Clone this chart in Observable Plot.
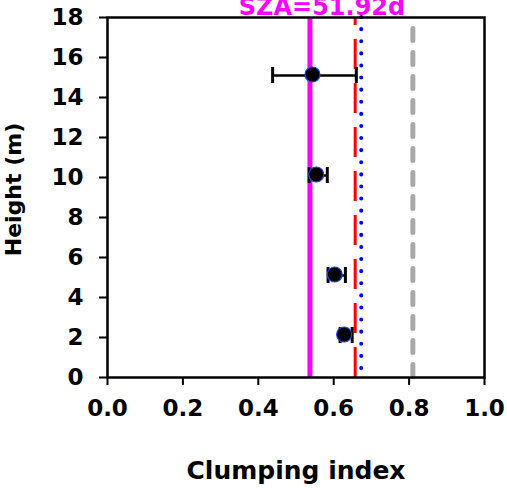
<!DOCTYPE html>
<html>
<head>
<meta charset="utf-8">
<script src="https://cdn.jsdelivr.net/npm/d3@7"></script>
<script src="https://cdn.jsdelivr.net/npm/@observablehq/plot@0.6"></script>
<style>
  html, body { margin: 0; padding: 0; background: white; }
  #chart { width: 507px; height: 488px; overflow: hidden; }
</style>
</head>
<body>
<div id="chart"></div>
<script>
// ---- data ----
const titleText = "SZA=51.92d";
const heights = [15.1, 10.1, 5.1, 2.1];
const clumping = [0.549, 0.559, 0.608, 0.633];
const errors = [0.111, 0.024, 0.023, 0.016];
const refMagenta = [0.537];
const refRed = [0.657];
const refBlue = [0.673];
const refGray = [0.81];
const xTicks = [0, 0.2, 0.4, 0.6, 0.8, 1.0];
const yTicks = [0, 2, 4, 6, 8, 10, 12, 14, 16, 18];
const xLabel = "Clumping index";
const yLabel = "Height (m)";

const rows = heights.map((h, i) => ({h, c: clumping[i], e: errors[i]}));
const capHalf = 0.4;

const chart = Plot.plot({
  width: 507,
  height: 488,
  marginLeft: 107,
  marginRight: 23,
  marginTop: 17,
  marginBottom: 111,
  style: {fontFamily: "DejaVu Sans", fontWeight: "bold", fontSize: "23px", color: "black", background: "white", overflow: "visible"},
  x: {domain: [0, 1]},
  y: {domain: [0, 18]},
  marks: [
    Plot.ruleX(refGray, {stroke: "#a9a9a9", strokeWidth: 5, strokeDasharray: "12,12", strokeDashoffset: 12.5, strokeLinecap: "round"}),
    Plot.ruleX(refMagenta, {stroke: "#ff00ff", strokeWidth: 5}),
    Plot.ruleX(refRed, {stroke: "#ff0000", strokeWidth: 3, strokeDasharray: "30,14", strokeDashoffset: 22}),
    Plot.ruleX(refBlue, {stroke: "#0000ff", strokeWidth: 4, strokeDasharray: "0.1,12", strokeLinecap: "round"}),
    Plot.ruleY(rows, {y: "h", x1: d => d.c - d.e, x2: d => d.c + d.e, stroke: "black", strokeWidth: 2.5}),
    Plot.ruleX(rows, {x: d => d.c - d.e, y1: d => d.h - capHalf, y2: d => d.h + capHalf, stroke: "black", strokeWidth: 3}),
    Plot.ruleX(rows, {x: d => d.c + d.e, y1: d => d.h - capHalf, y2: d => d.h + capHalf, stroke: "black", strokeWidth: 3}),
    Plot.dot(rows, {x: "c", y: "h", dx: -2, dy: -1, r: 7.5, fill: "black", stroke: "#2040ff", strokeWidth: 1.2}),
    Plot.frame({stroke: "black", strokeWidth: 2.5}),
    Plot.axisX({ticks: xTicks, tickFormat: d3.format(".1f"), tickSize: 8, tickPadding: 14, strokeWidth: 2, fontSize: 23, label: null}),
    Plot.axisY({ticks: yTicks, tickFormat: d3.format("d"), tickSize: 8, tickPadding: 16, strokeWidth: 2, fontSize: 23, label: null}),
    Plot.text([xLabel], {frameAnchor: "bottom", dy: 101, lineAnchor: "bottom", fontSize: 25, fontWeight: "bold", fill: "black"}),
    Plot.text([yLabel], {frameAnchor: "left", textAnchor: "middle", dx: -102, dy: -8, rotate: -90, lineAnchor: "top", fontSize: 22, fontWeight: "bold", fill: "black"}),
    Plot.text([titleText], {frameAnchor: "top", dx: 26, dy: -3, lineAnchor: "bottom", fill: "#ff00ff", fontSize: 24, fontWeight: "bold"})
  ]
});
document.getElementById("chart").appendChild(chart);
</script>
</body>
</html>
